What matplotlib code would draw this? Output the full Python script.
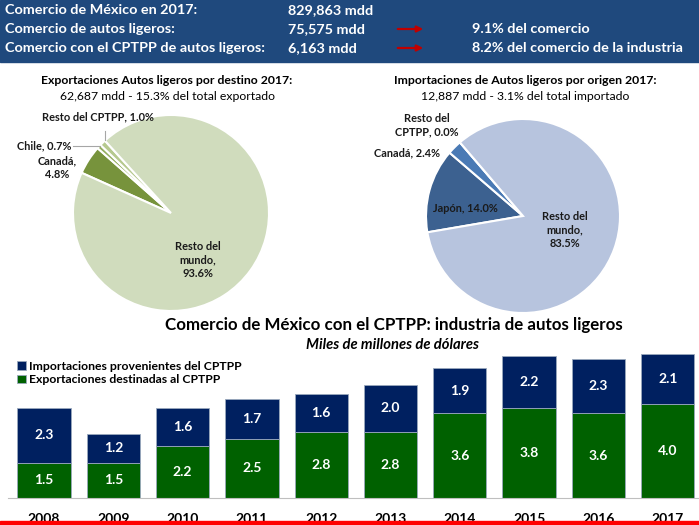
import matplotlib
matplotlib.use("Agg")
import matplotlib.pyplot as plt
import numpy as np
from matplotlib.patches import Rectangle

plt.rcParams["font.family"] = ["Lato", "DejaVu Sans"]

# --- data ---
header_labels = ["Comercio de México en 2017:", "Comercio de autos ligeros:",
                 "Comercio con el CPTPP de autos ligeros:"]
header_values = ["829,863 mdd", "75,575 mdd", "6,163 mdd"]
header_notes = ["", "9.1% del comercio", "8.2% del comercio de la industria"]

exp_labels = ["Canadá", "Chile", "Resto del CPTPP", "Resto del mundo"]
exp_shares = [4.8, 0.7, 1.0, 93.6]
imp_labels = ["Japón", "Canadá", "Resto del CPTPP", "Resto del mundo"]
imp_shares = [14.0, 2.4, 0.0, 83.5]

years = ["2008", "2009", "2010", "2011", "2012", "2013", "2014", "2015", "2016", "2017"]
exports = [1.5, 1.5, 2.2, 2.5, 2.8, 2.8, 3.6, 3.8, 3.6, 4.0]
imports = [2.3, 1.2, 1.6, 1.7, 1.6, 2.0, 1.9, 2.2, 2.3, 2.1]

W, H = 699, 525


def Y(py):
    # pixel row (from top) -> data y of the overlay axes
    return H - py


fig = plt.figure(figsize=(W / 100, H / 100), dpi=100)
bg = fig.add_axes([0, 0, 1, 1])

# header band
bg.add_patch(Rectangle((0, Y(62)), W, 62, color="#1f497d", zorder=0))
for i, (lab, val, note) in enumerate(zip(header_labels, header_values, header_notes)):
    yy = Y(10 + 19 * i)
    bg.text(5, yy, lab, color="white", fontsize=10.4, fontweight="bold", va="center")
    bg.text(288, yy, val, color="white", fontsize=10.4, fontweight="bold", va="center")
    if note:
        bg.annotate("", xy=(426, yy), xytext=(395, yy),
                    arrowprops=dict(arrowstyle="-|>", color="#c00000", lw=1.6,
                                    mutation_scale=9))
        bg.text(472, yy, note, color="white", fontsize=10.4, fontweight="bold", va="center")

# export pie
bg.pie(exp_shares, center=(171, Y(213)), radius=98, startangle=155.8,
       counterclock=False, colors=["#77933c", "#93ad5e", "#b6c98f", "#d0dcbd"],
       wedgeprops=dict(edgecolor="white", linewidth=1.5))
# import pie
bg.pie(imp_shares, center=(523, Y(216)), radius=97, startangle=189.7,
       counterclock=False, colors=["#3c6190", "#4a7ab5", "#6f95c8", "#b7c4de"],
       wedgeprops=dict(edgecolor="white", linewidth=1.5))
bg.set_xlim(0, W)
bg.set_ylim(0, H)
bg.axis("off")

tkw = dict(fontsize=8.8, fontweight="bold", color="black", ha="center", va="center")
bg.text(167, Y(80), "Exportaciones Autos ligeros por destino 2017:", **tkw)
bg.text(167, Y(97), "62,687 mdd - 15.3% del total exportado", fontsize=8.8,
        color="black", ha="center", va="center")
bg.text(525, Y(80), "Importaciones de Autos ligeros por origen 2017:", **tkw)
bg.text(525, Y(97), "12,887 mdd - 3.1% del total importado", fontsize=8.8,
        color="black", ha="center", va="center")

lkw = dict(fontsize=7.9, fontweight="bold", color="#1a1a1a", va="center", linespacing=1.3)
bg.text(98, Y(117), f"Resto del CPTPP, {exp_shares[2]:.1f}%", ha="center", **lkw)
bg.text(71, Y(146), f"Chile, {exp_shares[1]:.1f}%", ha="right", **lkw)
bg.text(57, Y(168), f"Canadá,\n{exp_shares[0]:.1f}%", ha="center", **lkw)
bg.text(198, Y(260), f"Resto del\nmundo,\n{exp_shares[3]:.1f}%", ha="center", **lkw)
bg.plot([73, 100], [Y(146), Y(146)], color="#a6a6a6", lw=0.8)
bg.plot([105, 105], [Y(131), Y(140)], color="#a6a6a6", lw=0.8)

bg.text(427, Y(125), f"Resto del\nCPTPP, {imp_shares[2]:.1f}%", ha="center", **lkw)
bg.text(407, Y(153), f"Canadá, {imp_shares[1]:.1f}%", ha="center", **lkw)
bg.text(465, Y(209), f"Japón, {imp_shares[0]:.1f}%", ha="center", **lkw)
bg.text(565, Y(230), f"Resto del\nmundo,\n{imp_shares[3]:.1f}%", ha="center", **lkw)

# bar chart title
bg.text(394, Y(325), "Comercio de México con el CPTPP: industria de autos ligeros",
        fontsize=12.2, fontweight="bold", ha="center", va="center")
bg.text(392, Y(345), "Miles de millones de dólares", fontsize=10.6, fontweight="bold",
        style="italic", ha="center", va="center")

# --- stacked bars ---
unit = 23.6  # px per billion
ax = fig.add_axes([8 / W, (H - 498) / H, (W - 8) / W, 153 / H])
x = np.arange(len(years))
b_exp = ax.bar(x, exports, width=0.77, color="#006100", edgecolor="#9aa9bd", linewidth=0.6,
               label="Exportaciones destinadas al CPTPP")
b_imp = ax.bar(x, imports, width=0.77, bottom=exports, color="#002060", edgecolor="#9aa9bd",
               linewidth=0.6, label="Importaciones provenientes del CPTPP")
for cont in (b_exp, b_imp):
    ax.bar_label(cont, fmt="%.1f", label_type="center", color="white",
                 fontsize=10, fontweight="bold")

ax.set_xlim((8 - 44) / 69.3, (W - 44) / 69.3)
ax.set_ylim(0, 153 / unit)
ax.set_xticks(x, years, fontsize=10, fontweight="bold")
ax.tick_params(axis="x", length=0, pad=11)
ax.set_yticks([])
for side in ("top", "right", "left"):
    ax.spines[side].set_visible(False)
ax.spines["bottom"].set_color("#bfbfbf")
ax.patch.set_alpha(0)

fig.legend(handles=[b_imp, b_exp], loc="upper left",
           bbox_to_anchor=(17 / W, 1 - 361 / H), frameon=False,
           handlelength=0.7, handleheight=0.7, handletextpad=0.25,
           borderpad=0, borderaxespad=0, labelspacing=0.18,
           prop=dict(weight="bold", size=8.8))

# red rule at the bottom
fig.add_artist(Rectangle((0, 0), 1, 4 / H, transform=fig.transFigure,
                         color="#ff0000", zorder=10))

fig.savefig("out.png", dpi=100)
